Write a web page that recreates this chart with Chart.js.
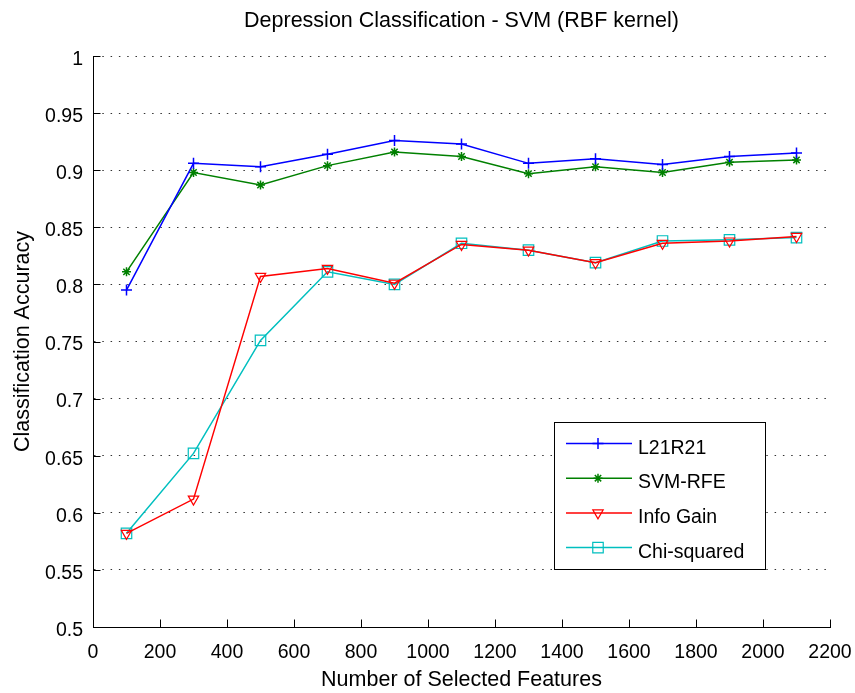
<!DOCTYPE html>
<html lang="en">
<head>
  <meta charset="UTF-8" />
  <title>Depression Classification - SVM (RBF kernel)</title>
  <script src="https://cdn.jsdelivr.net/npm/chart.js"></script>
  <style>
    html, body { margin: 0; padding: 0; background: #fff; }
    #wrap { width: 855px; height: 693px; position: relative; }
  </style>
</head>
<body>
  <div id="wrap"><canvas id="svmChart"></canvas></div>

  <script>
    // values
    const features   = [100, 300, 500, 700, 900, 1100, 1300, 1500, 1700, 1900, 2100];
    const l21r21     = [0.795, 0.906, 0.903, 0.914, 0.926, 0.923, 0.906, 0.910, 0.905, 0.912, 0.915];
    const svmRfe     = [0.811, 0.898, 0.887, 0.904, 0.916, 0.912, 0.897, 0.903, 0.898, 0.907, 0.909];
    const infoGain   = [0.582, 0.612, 0.807, 0.814, 0.801, 0.835, 0.830, 0.819, 0.836, 0.838, 0.842];
    const chiSquared = [0.582, 0.652, 0.751, 0.811, 0.800, 0.836, 0.830, 0.819, 0.838, 0.839, 0.841];

    const xTicks = [0, 200, 400, 600, 800, 1000, 1200, 1400, 1600, 1800, 2000, 2200];
    const yTicks = [0.5, 0.55, 0.6, 0.65, 0.7, 0.75, 0.8, 0.85, 0.9, 0.95, 1];

    const titleText = 'Depression Classification - SVM (RBF kernel)';
    const xLabel = 'Number of Selected Features';
    const yLabel = 'Classification Accuracy';

    const toPoints = vals => features.map((f, i) => ({ x: f, y: vals[i] }));

    Chart.defaults.font.family = '"Liberation Sans", Arial, sans-serif';
    Chart.defaults.font.size = 19.5;
    Chart.defaults.color = '#000';

    // MATLAB style: ticks point into the axes
    const innerTicks = {
      id: 'innerTicks',
      beforeDatasetsDraw(chart) {
        const ctx = chart.ctx;
        const area = chart.chartArea;
        const xs = chart.scales.x, ys = chart.scales.y;
        ctx.save();
        ctx.strokeStyle = '#000';
        ctx.lineWidth = 1;
        ctx.beginPath();
        xTicks.forEach(v => {
          const px = Math.round(xs.getPixelForValue(v)) + 0.5;
          ctx.moveTo(px, area.bottom);
          ctx.lineTo(px, area.bottom - 7.5);
        });
        yTicks.forEach(v => {
          const py = Math.round(ys.getPixelForValue(v)) + 0.5;
          ctx.moveTo(area.left, py);
          ctx.lineTo(area.left + 7.5, py);
        });
        ctx.stroke();
        ctx.restore();
      }
    };

    const boxLegend = {
      id: 'boxLegend',
      afterDatasetsDraw(chart) {
        const ctx = chart.ctx;
        const box = { left: 554.5, top: 422.5, right: 765.5, bottom: 569.5 };
        ctx.save();
        ctx.fillStyle = '#fff';
        ctx.fillRect(box.left, box.top, box.right - box.left, box.bottom - box.top);
        ctx.strokeStyle = '#000';
        ctx.lineWidth = 1;
        ctx.strokeRect(box.left, box.top, box.right - box.left, box.bottom - box.top);

        chart.data.datasets.forEach((ds, i) => {
          const y = 443.5 + i * 34.7;
          ctx.strokeStyle = ds.borderColor;
          ctx.lineWidth = ds.borderWidth;
          ctx.beginPath();
          ctx.moveTo(566, y);
          ctx.lineTo(632, y);
          ctx.stroke();
          ctx.fillStyle = ds.pointBackgroundColor;
          ctx.lineWidth = ds.pointBorderWidth;
          Chart.helpers.drawPoint(ctx, {
            pointStyle: ds.pointStyle,
            rotation: ds.pointRotation || 0,
            radius: ds.pointRadius,
            borderWidth: ds.pointBorderWidth
          }, 598, y);
          ctx.fillStyle = '#000';
          ctx.font = '19.5px "Liberation Sans", Arial, sans-serif';
          ctx.textAlign = 'left';
          ctx.textBaseline = 'alphabetic';
          ctx.fillText(ds.label, 638, y + 10);
        });
        ctx.restore();
      }
    };

    const axisTexts = {
      id: 'axisTexts',
      afterDraw(chart) {
        const ctx = chart.ctx;
        const area = chart.chartArea;
        const cx = (area.left + area.right) / 2;
        const cy = (area.top + area.bottom) / 2;
        ctx.save();
        ctx.fillStyle = '#000';
        ctx.font = '21.5px "Liberation Sans", Arial, sans-serif';
        ctx.textAlign = 'center';
        ctx.textBaseline = 'alphabetic';
        ctx.fillText(titleText, cx, 27);
        ctx.fillText(xLabel, cx, 686);
        ctx.translate(28.5, cy);
        ctx.rotate(-Math.PI / 2);
        ctx.fillText(yLabel, 0, 0);
        ctx.restore();
      }
    };

    const ctx = document.getElementById('svmChart').getContext('2d');
    const chart = new Chart(ctx, {
      type: 'line',
      data: {
        datasets: [
          {
            label: 'L21R21',
            data: toPoints(l21r21),
            borderColor: '#0000ff',
            borderWidth: 1.5,
            pointStyle: 'cross',
            pointRadius: 5.5,
            pointBorderColor: '#0000ff',
            pointBackgroundColor: 'transparent',
            pointBorderWidth: 1.5
          },
          {
            label: 'SVM-RFE',
            data: toPoints(svmRfe),
            borderColor: '#008000',
            borderWidth: 1.5,
            pointStyle: 'star',
            pointRadius: 4.5,
            pointBorderColor: '#008000',
            pointBackgroundColor: 'transparent',
            pointBorderWidth: 1.5
          },
          {
            label: 'Info Gain',
            data: toPoints(infoGain),
            borderColor: '#ff0000',
            borderWidth: 1.5,
            pointStyle: 'triangle',
            pointRotation: 180,
            pointRadius: 6,
            pointBorderColor: '#ff0000',
            pointBackgroundColor: 'transparent',
            pointBorderWidth: 1.2
          },
          {
            label: 'Chi-squared',
            data: toPoints(chiSquared),
            borderColor: '#00bfbf',
            borderWidth: 1.5,
            pointStyle: 'rect',
            pointRadius: 7.4,
            pointBorderColor: '#00bfbf',
            pointBackgroundColor: 'transparent',
            pointBorderWidth: 1.2
          }
        ]
      },
      options: {
        responsive: true,
        maintainAspectRatio: false,
        animation: false,
        layout: { padding: { top: 56, right: 25, left: 0, bottom: 0 } },
        plugins: {
          legend: { display: false },
          title: { display: false },
          tooltip: { enabled: false }
        },
        elements: { line: { tension: 0 } },
        scales: {
          x: {
            type: 'linear',
            min: 0,
            max: 2200,
            afterBuildTicks: s => { s.ticks = xTicks.map(v => ({ value: v })); },
            afterFit: s => { s.height = 66; s.paddingLeft = 0; s.paddingRight = 0; },
            grid: { display: false, drawTicks: false },
            border: { display: true, color: '#000', width: 1 },
            ticks: {
              padding: 14,
              maxRotation: 0,
              autoSkip: false,
              callback: v => String(v)
            }
          },
          y: {
            type: 'linear',
            min: 0.5,
            max: 1,
            afterBuildTicks: s => { s.ticks = yTicks.map(v => ({ value: v })); },
            afterFit: s => { s.width = 93; s.paddingTop = 0; s.paddingBottom = 0; },
            grid: { color: '#333', lineWidth: 1, drawTicks: false },
            border: { display: true, color: '#000', width: 1, dash: [1.5, 6.8] },
            ticks: {
              padding: 10,
              labelOffset: 3.5,
              autoSkip: false,
              callback: v => String(+v.toFixed(2))
            }
          }
        }
      },
      plugins: [innerTicks, boxLegend, axisTexts]
    });
  </script>
</body>
</html>
